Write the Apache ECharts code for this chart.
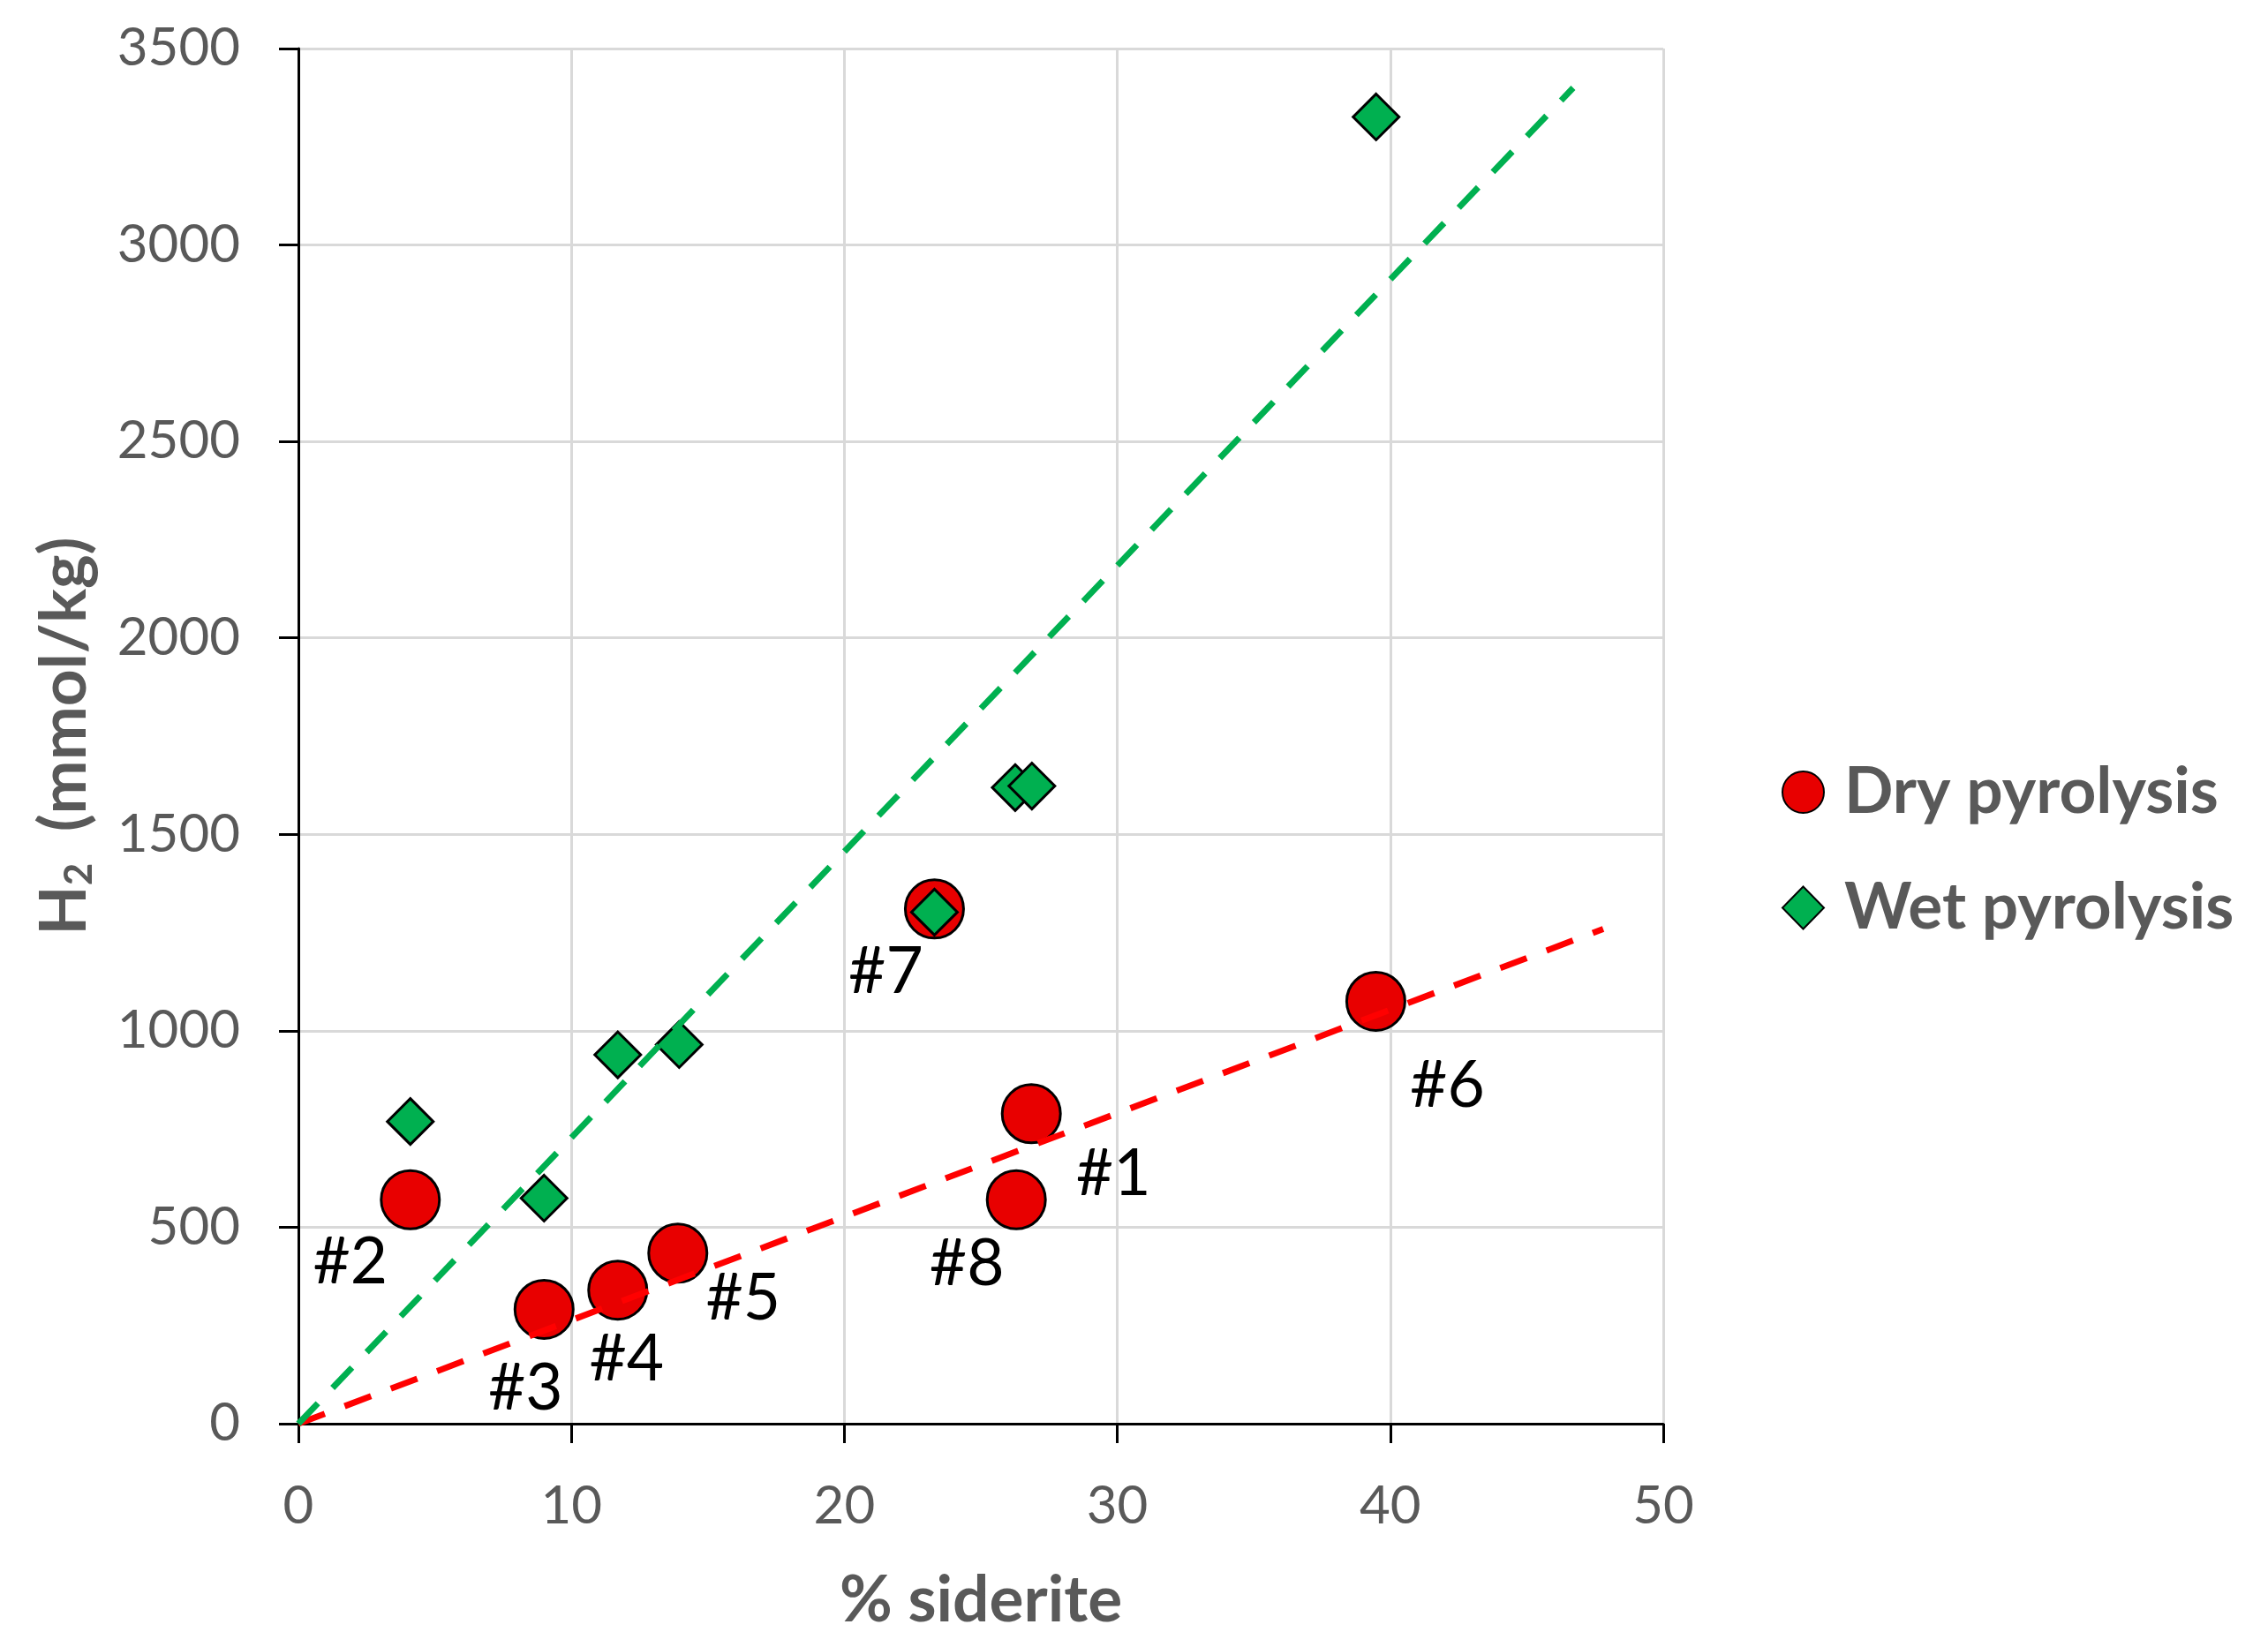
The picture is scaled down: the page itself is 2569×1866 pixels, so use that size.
<!DOCTYPE html>
<html>
<head>
<meta charset="utf-8">
<script src="https://cdn.jsdelivr.net/npm/echarts@6/dist/echarts.min.js"></script>
<style>
html,body{margin:0;padding:0;background:#fff;}
#chart{width:2569px;height:1866px;}
</style>
</head>
<body>
<div id="chart"></div>
<script>
// ---- data ----
const sampleIds   = ['#2', '#3', '#4', '#5', '#7', '#8', '#1', '#6'];
const sideritePct = [4.1, 9.0, 11.7, 13.9, 23.3, 26.3, 26.85, 39.47];
const dryH2       = [570, 291, 340, 434, 1310, 570, 789, 1075];
const wetSiderite = [4.1, 9.0, 11.7, 13.95, 23.3, 26.26, 26.87, 39.48];
const wetH2       = [769, 574, 939, 965, 1302, 1619, 1623, 3326];
const dryTrendX   = [0, 47.8];
const dryTrendY   = [0, 1259];
const wetTrendX   = [0, 46.7];
const wetTrendY   = [0, 3400];
const xTicks = [0, 10, 20, 30, 40, 50];
const yTicks = [0, 500, 1000, 1500, 2000, 2500, 3000, 3500];

// ---- presentation ----
const FONT = 'Lato, "Noto Sans", sans-serif';
const GRAY = '#595959';
const labelOffsets = {
  '#2': [-68, 71], '#3': [-21, 90], '#4': [10, 79], '#5': [74, 52],
  '#7': [-55, 72], '#8': [-56, 73], '#1': [93, 69], '#6': [81, 96]
};

const dryData = sampleIds.map((id, i) => ({
  value: [sideritePct[i], dryH2[i]],
  label: {
    show: true, position: 'inside', formatter: id,
    offset: labelOffsets[id], color: '#000', fontSize: 73, fontFamily: FONT
  }
}));
const wetData = wetSiderite.map((x, i) => [x, wetH2[i]]);
const pair = (xs, ys) => xs.map((x, i) => [x, ys[i]]);

const chart = echarts.init(document.getElementById('chart'), null, {renderer: 'canvas'});
chart.setOption({
  animation: false,
  backgroundColor: '#fff',
  grid: {left: 338, right: 685, top: 55, bottom: 253, containLabel: false},
  xAxis: {
    type: 'value', min: xTicks[0], max: xTicks[xTicks.length - 1], interval: 10,
    name: '% siderite', nameLocation: 'middle', nameGap: 164,
    nameTextStyle: {fontSize: 73, fontWeight: 'bold', color: GRAY, fontFamily: FONT},
    axisLine: {show: true, lineStyle: {color: '#000', width: 3}},
    axisTick: {show: true, length: 22, lineStyle: {color: '#000', width: 3}},
    axisLabel: {margin: 64, fontSize: 60, color: GRAY, fontFamily: FONT, formatter: v => String(v)},
    splitLine: {show: true, lineStyle: {color: '#d9d9d9', width: 3}}
  },
  yAxis: {
    type: 'value', min: yTicks[0], max: yTicks[yTicks.length - 1], interval: 500,
    name: 'H{sub|2}  (mmol/kg)', nameLocation: 'middle', nameGap: 226, nameRotate: 90,
    nameTextStyle: {
      fontSize: 73, fontWeight: 'bold', color: GRAY, fontFamily: FONT,
      rich: {sub: {fontSize: 44, fontWeight: 'bold', color: GRAY, fontFamily: FONT, verticalAlign: 'bottom', padding: [34, 0, 0, 0]}}
    },
    axisLine: {show: true, lineStyle: {color: '#000', width: 3}},
    axisTick: {show: true, length: 22, lineStyle: {color: '#000', width: 3}},
    axisLabel: {margin: 66, fontSize: 60, color: GRAY, fontFamily: FONT, formatter: v => String(v)},
    splitLine: {show: true, lineStyle: {color: '#d9d9d9', width: 3}}
  },
  legend: {
    orient: 'vertical', left: 2013, top: 856,
    itemWidth: 47, itemHeight: 48, itemGap: 58,
    data: [
      {name: 'Dry pyrolysis', icon: 'circle'},
      {name: 'Wet pyrolysis', icon: 'diamond'}
    ],
    textStyle: {fontSize: 73, fontWeight: 'bold', color: GRAY, fontFamily: FONT, padding: [0, 0, 0, 18]}
  },
  series: [
    {
      name: 'Dry pyrolysis', type: 'scatter', symbol: 'circle', symbolSize: 66, z: 2,
      itemStyle: {color: '#e80000', borderColor: '#000', borderWidth: 3, opacity: 1},
      data: dryData
    },
    {
      name: 'Wet pyrolysis', type: 'scatter', symbol: 'diamond', symbolSize: 52, z: 3,
      itemStyle: {color: '#00b050', borderColor: '#000', borderWidth: 3, opacity: 1},
      data: wetData
    },
    {
      name: 'Dry trend', type: 'line', symbol: 'none', z: 4, silent: true,
      lineStyle: {color: '#ff0000', width: 7, type: [32, 24]},
      data: pair(dryTrendX, dryTrendY)
    },
    {
      name: 'Wet trend', type: 'line', symbol: 'none', z: 4, silent: true,
      lineStyle: {color: '#00b050', width: 7, type: [32, 24]},
      data: pair(wetTrendX, wetTrendY)
    }
  ]
});
</script>
</body>
</html>
